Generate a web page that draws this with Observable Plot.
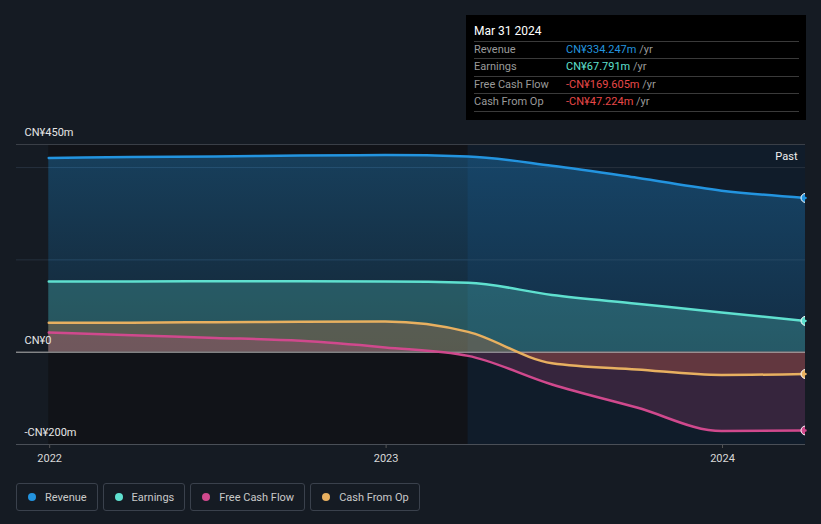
<!DOCTYPE html>
<html><head><meta charset="utf-8">
<script src="https://cdn.jsdelivr.net/npm/d3@7"></script>
<script src="https://cdn.jsdelivr.net/npm/@observablehq/plot@0.6"></script>
<style>
body{margin:0;background:#151b23;font-family:Roboto,"Open Sans",sans-serif;}
#wrap{position:relative;width:821px;height:524px;overflow:hidden;background:#151b23;}
#chart{position:absolute;left:0;top:0;}
#tip{position:absolute;left:466px;top:15px;width:340px;height:105px;background:#000;}
#tip .title{position:absolute;left:8px;top:16px;transform:translateY(-50%);color:#fff;font-size:12px;}
#tip .sep{position:absolute;left:8px;width:325px;height:1px;background:#3a3a3a;}
#tip .row{position:absolute;left:8px;transform:translateY(-50%);font-size:11px;white-space:nowrap;}
#tip .lab{position:absolute;left:0;color:#9a9a9a;}
#tip .val{position:absolute;left:92px;}
#tip .yr{color:#9a9a9a;}
#legend{position:absolute;left:16px;top:483px;display:flex;gap:5px;}
#legend .item{height:26px;border:1px solid #3a414c;border-radius:3px;display:flex;align-items:center;padding:0 10px 0 11px;color:#c9c9c9;font-size:11px;}
#legend .dot{width:8px;height:8px;border-radius:50%;margin-right:9px;}
#chart svg [aria-label="x-axis tick"] {stroke:#555;}
</style></head><body>
<div id="wrap"><div id="chart"></div><div id="tip"></div><div id="legend"></div></div>
<script>
// ---- data (CN¥ millions, trailing twelve months) ----
const dates = ["2021-12-31","2022-03-31","2022-06-30","2022-09-30","2022-12-31","2023-03-31","2023-06-30","2023-09-30","2023-12-31","2024-03-31"];
const revenue  = [421, 423, 424, 426, 427, 424, 404, 378, 350, 334.247];
const earnings = [153.2, 153.4, 153.5, 153.6, 153.4, 150.6, 124, 105, 86, 67.791];
const fcf      = [42.6, 36.5, 31, 24.6, 10.4, -8, -70, -120, -171, -169.605];
const cfo      = [63.7, 64, 65, 66, 66.5, 44, -24, -37.4, -49.3, -47.224];

const seriesNames  = ["Revenue","Earnings","Free Cash Flow","Cash From Op"];
const seriesKeys   = ["revenue","earnings","fcf","cfo"];
const seriesColors = ["#2394df","#5fe0cf","#d0498d","#e8b060"];

const yLabelValues = [450, 0, -200];
const yLabelTexts  = ["CN¥450m","CN¥0","-CN¥200m"];
const gridValues   = [200, 400];
const xTickDates   = ["2022-01-01","2023-01-01","2024-01-01"];
const xDomainStart = "2021-11-26";
const highlightStart = "2023-03-31";
const pastLabel = "Past";

const tipTitle  = "Mar 31 2024";
const tipValues = ["CN¥334.247m","CN¥67.791m","-CN¥169.605m","-CN¥47.224m"];
const tipValueColors = ["#2394df","#5fe0cf","#e84848","#e84848"];

// ---- build ----
const parse = d3.utcParse("%Y-%m-%d");
const D = dates.map(parse);
const rows = D.map((d,i)=>({date:d, revenue:revenue[i], earnings:earnings[i], fcf:fcf[i], cfo:cfo[i]}));
const last = rows[rows.length-1];
const lastPts = seriesKeys.map((k,i)=>({date:last.date, value:last[k], color:seriesColors[i]}));
const curve = "monotone-x";
const hs = parse(highlightStart);

const svg = Plot.plot({
  width: 821, height: 470,
  marginTop: 144, marginBottom: 26, marginLeft: 16, marginRight: 16,
  style: {background: "transparent", color: "#d8d8d8", fontFamily: "Roboto, sans-serif", fontSize: "11px"},
  x: {type: "utc", domain: [parse(xDomainStart), D[D.length-1]], ticks: xTickDates.map(parse), tickFormat: d3.utcFormat("%Y"), tickSize: 4, tickPadding: 6, label: null, line: false},
  y: {domain: [-200, 450], axis: null},
  marks: [
    Plot.rect([0], {x1: () => D[0], x2: () => hs, y1: () => -200, y2: () => 450, fill: "#111318"}),
    Plot.rect([0], {x1: () => hs, x2: () => D[D.length-1], y1: () => -200, y2: () => 450, fill: "#101c2a"}),
    Plot.ruleY(gridValues, {stroke: "#26313d", strokeWidth: 1}),
    Plot.areaY(rows, {x: "date", y: "revenue", fill: "url(#gRev)", curve}),
    Plot.areaY(rows, {x: "date", y: "earnings", fill: "#5fe0cf", fillOpacity: 0.25, curve}),
    Plot.areaY(rows, {x: "date", y: "cfo", fill: "#dc6e32", fillOpacity: 0.27, curve}),
    Plot.areaY(rows, {x: "date", y: "fcf", fill: "#d0498d", fillOpacity: 0.2, curve}),
    Plot.ruleY([450], {stroke: "#3a3f47"}),
    Plot.ruleY([-200], {stroke: "#4a4f57"}),
    Plot.ruleY([0], {stroke: "#b5b5b5", strokeWidth: 1}),
    ...seriesKeys.map((k,i) => Plot.lineY(rows, {x: "date", y: k, stroke: seriesColors[i], strokeWidth: 2.5, curve})),
    Plot.dot(lastPts, {x: "date", y: "value", fill: "color", stroke: "#fff", strokeWidth: 1, r: 4.5, clip: true}),
    Plot.text(yLabelValues, {y: d => d, text: (d,i) => yLabelTexts[i], frameAnchor: "left", dx: 8, dy: -12, textAnchor: "start", fill: "#e6e6e6", fontSize: 11}),
    Plot.text([pastLabel], {x: () => D[D.length-1], y: () => 450, text: d => d, dx: -8, dy: 12, textAnchor: "end", fill: "#f0f0f0", fontSize: 11})
  ]
});
// gradient for revenue area
const ns = "http://www.w3.org/2000/svg";
const defs = document.createElementNS(ns, "defs");
const lg = document.createElementNS(ns, "linearGradient");
lg.setAttribute("id", "gRev"); lg.setAttribute("x1","0"); lg.setAttribute("y1","0"); lg.setAttribute("x2","0"); lg.setAttribute("y2","1");
[[0,0.34],[1,0.14]].forEach(([o,a]) => {
  const s = document.createElementNS(ns, "stop");
  s.setAttribute("offset", o); s.setAttribute("stop-color", seriesColors[0]); s.setAttribute("stop-opacity", a);
  lg.appendChild(s);
});
defs.appendChild(lg);
svg.insertBefore(defs, svg.firstChild);
document.getElementById("chart").appendChild(svg);

// tooltip
const tip = document.getElementById("tip");
const t = document.createElement("div"); t.className = "title"; t.textContent = tipTitle; tip.appendChild(t);
const sepY = [26, 43, 61, 78, 96];
sepY.forEach(y => { const s = document.createElement("div"); s.className = "sep"; s.style.top = y + "px"; tip.appendChild(s); });
const rowY = [34.5, 51.5, 69.5, 86.5];
seriesNames.forEach((n,i) => {
  const r = document.createElement("div"); r.className = "row"; r.style.top = rowY[i] + "px";
  r.innerHTML = `<span class="lab"></span><span class="val"><span class="v"></span> <span class="yr">/yr</span></span>`;
  r.querySelector(".lab").textContent = n;
  const v = r.querySelector(".v"); v.textContent = tipValues[i]; v.style.color = tipValueColors[i];
  r.style.width = "330px"; r.style.height = "14px";
  tip.appendChild(r);
});
// legend
const leg = document.getElementById("legend");
seriesNames.forEach((n,i) => {
  const it = document.createElement("div"); it.className = "item";
  const d = document.createElement("span"); d.className = "dot"; d.style.background = seriesColors[i];
  const s = document.createElement("span"); s.textContent = n;
  it.appendChild(d); it.appendChild(s); leg.appendChild(it);
});
</script>
</body></html>
